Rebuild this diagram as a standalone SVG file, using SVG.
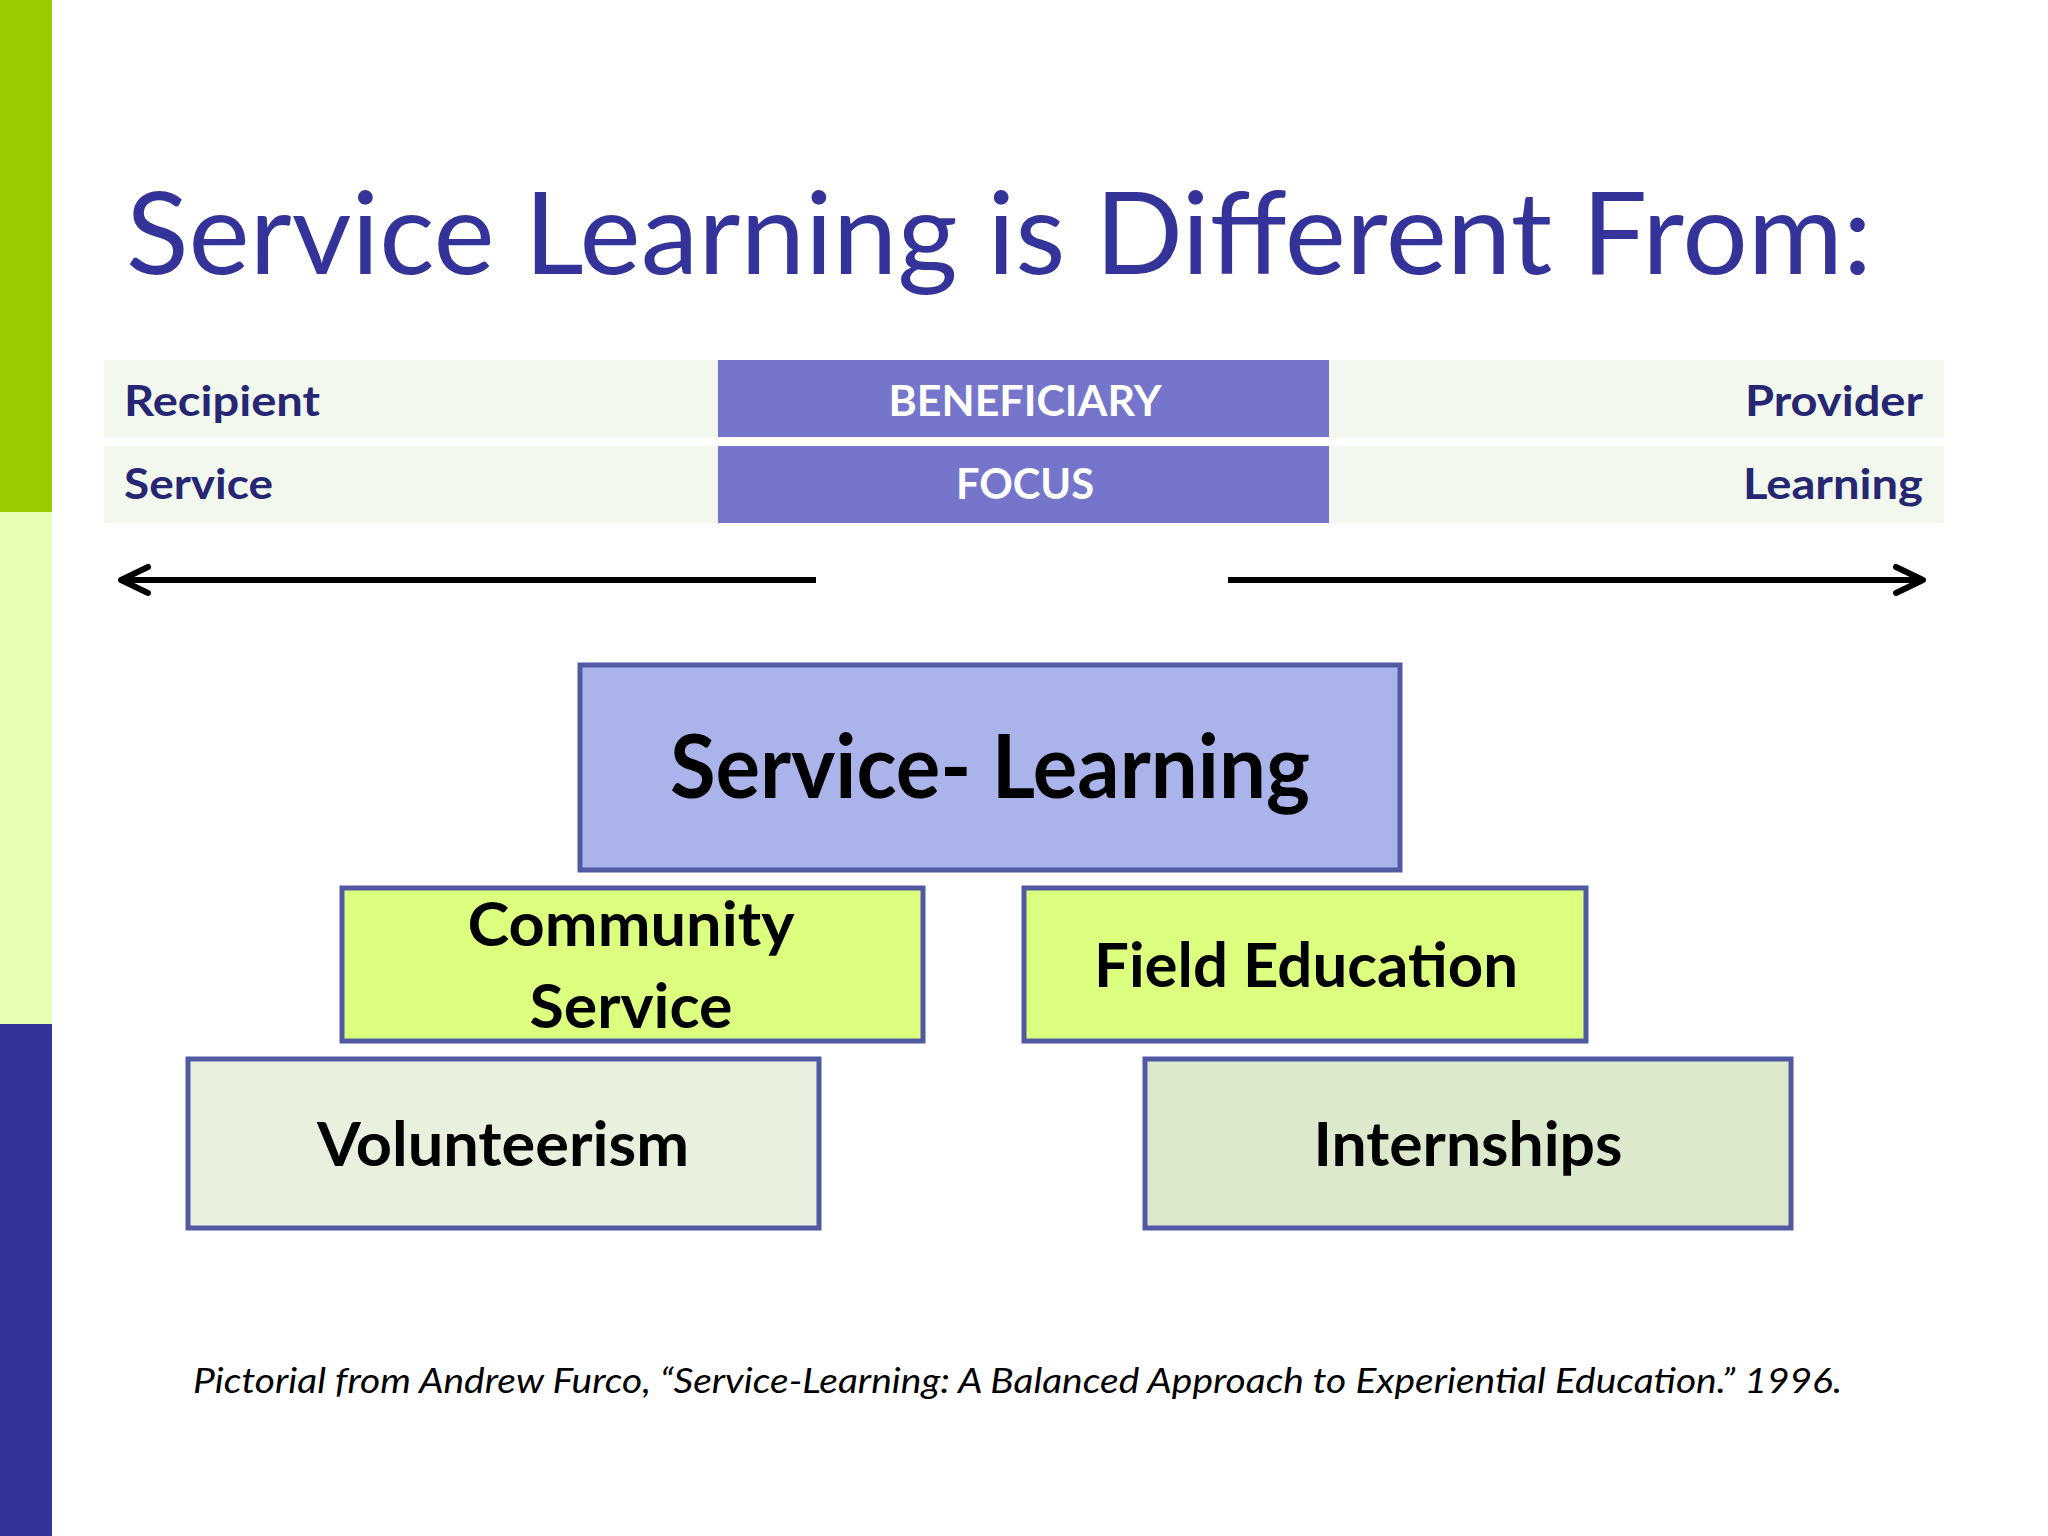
<svg xmlns="http://www.w3.org/2000/svg" width="2048" height="1536" viewBox="0 0 2048 1536">
  <style>
    .title { font-family: Lato, "Open Sans", sans-serif; font-size: 115px; fill: #333399; }
    .cell { fill: #f3f8ee; }
    .mid { fill: #7575cc; }
    .tlabel { font-family: Lato, "Open Sans", sans-serif; font-weight: bold; font-size: 42px; fill: #262673; }
    .mlabel { font-family: Lato, "Open Sans", sans-serif; font-weight: bold; font-size: 42px; fill: #ffffff; text-anchor: middle; }
    .box { stroke: #5159a3; stroke-width: 5; }
    .blabel { font-family: Lato, "Open Sans", sans-serif; font-weight: bold; font-size: 61px; fill: #000000; text-anchor: middle; }
    .big { font-size: 88px; }
    .cite { font-family: Lato, "Open Sans", sans-serif; font-style: italic; font-size: 34px; fill: #000000; }
    .arrow { stroke: #000000; stroke-width: 6; fill: none; }
  </style>
  <defs>
    <marker id="chev" markerUnits="userSpaceOnUse" viewBox="-40 -20 50 40" refX="0" refY="0" markerWidth="50" markerHeight="40" orient="auto" overflow="visible">
      <path d="M -27 -13 L 0 0 L -27 13" fill="none" stroke="#000000" stroke-width="6" stroke-linecap="round" stroke-linejoin="round"/>
    </marker>
  </defs>

  <rect x="0" y="0" width="2048" height="1536" fill="#ffffff"/>

  <g id="sidebar">
    <rect x="0" y="0" width="52" height="512" fill="#99cc00"/>
    <rect x="0" y="512" width="52" height="512" fill="#e6ffb3"/>
    <rect x="0" y="1024" width="52" height="512" fill="#333399"/>
  </g>

  <g id="title">
    <text class="title" x="126" y="274" textLength="1746" lengthAdjust="spacingAndGlyphs">Service Learning is Different From:</text>
  </g>

  <g id="scale-table">
    <rect class="cell" x="104" y="360" width="614" height="77"/>
    <rect class="mid" x="718" y="360" width="611" height="77"/>
    <rect class="cell" x="1329" y="360" width="615" height="77"/>
    <rect class="cell" x="104" y="446" width="614" height="77"/>
    <rect class="mid" x="718" y="446" width="611" height="77"/>
    <rect class="cell" x="1329" y="446" width="615" height="77"/>
    <text class="tlabel" x="124" y="416" textLength="196" lengthAdjust="spacingAndGlyphs">Recipient</text>
    <text class="tlabel" x="124" y="499" textLength="149" lengthAdjust="spacingAndGlyphs">Service</text>
    <text class="mlabel" x="1025" y="416" textLength="273" lengthAdjust="spacingAndGlyphs">BENEFICIARY</text>
    <text class="mlabel" x="1025" y="499" textLength="138" lengthAdjust="spacingAndGlyphs">FOCUS</text>
    <text class="tlabel" x="1923" y="416" text-anchor="end" textLength="178" lengthAdjust="spacingAndGlyphs">Provider</text>
    <text class="tlabel" x="1923" y="499" text-anchor="end" textLength="180" lengthAdjust="spacingAndGlyphs">Learning</text>
  </g>

  <g id="connectors">
    <line class="arrow" x1="816" y1="580" x2="121" y2="580" marker-end="url(#chev)"/>
    <line class="arrow" x1="1228" y1="580" x2="1923" y2="580" marker-end="url(#chev)"/>
  </g>

  <g id="node-service-learning">
    <rect class="box" x="580" y="665" width="820" height="205" fill="#aab4ea"/>
    <text class="blabel big" x="990" y="798" textLength="640" lengthAdjust="spacingAndGlyphs">Service- Learning</text>
  </g>

  <g id="node-community-service">
    <rect class="box" x="342" y="888" width="581" height="153" fill="#ddff80"/>
    <text class="blabel" x="631" y="946" textLength="327" lengthAdjust="spacingAndGlyphs">Community</text>
    <text class="blabel" x="631" y="1028" textLength="203" lengthAdjust="spacingAndGlyphs">Service</text>
  </g>

  <g id="node-field-education">
    <rect class="box" x="1024" y="888" width="562" height="153" fill="#ddff80"/>
    <text class="blabel" x="1306" y="987" textLength="424" lengthAdjust="spacingAndGlyphs">Field Education</text>
  </g>

  <g id="node-volunteerism">
    <rect class="box" x="188" y="1059" width="631" height="169" fill="#e8f0de"/>
    <text class="blabel" x="503" y="1166" textLength="372" lengthAdjust="spacingAndGlyphs">Volunteerism</text>
  </g>

  <g id="node-internships">
    <rect class="box" x="1145" y="1059" width="646" height="169" fill="#dde9cc"/>
    <text class="blabel" x="1468" y="1166" textLength="309" lengthAdjust="spacingAndGlyphs">Internships</text>
  </g>

  <g id="citation">
    <text class="cite" x="193" y="1393" textLength="1649" lengthAdjust="spacingAndGlyphs">Pictorial from Andrew Furco, “Service-Learning: A Balanced Approach to Experiential Education.” 1996.</text>
  </g>
</svg>
